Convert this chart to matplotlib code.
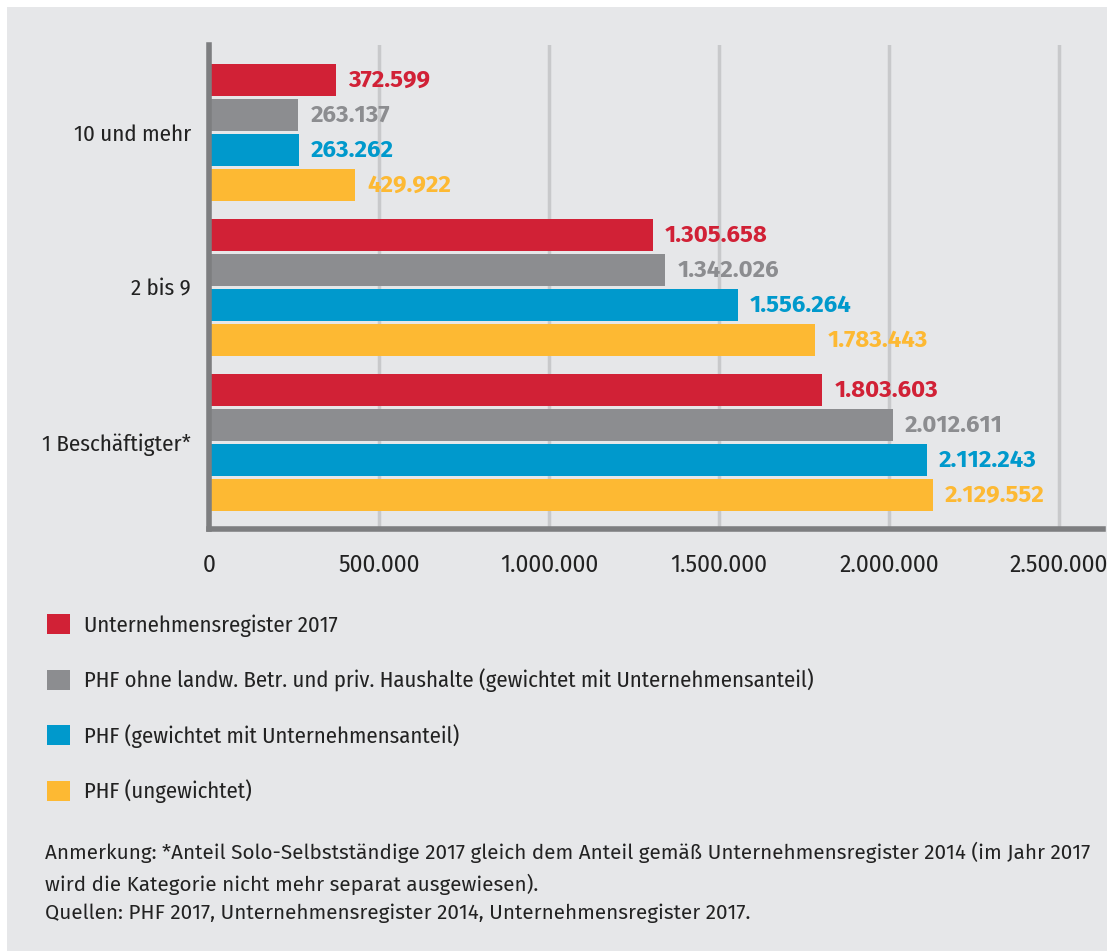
import numpy as np
import matplotlib.pyplot as plt
from matplotlib.patches import Rectangle

kategorien = ["10 und mehr", "2 bis 9", "1 Beschäftigter*"]
serien = ["Unternehmensregister 2017",
          "PHF ohne landw. Betr. und priv. Haushalte (gewichtet mit Unternehmensanteil)",
          "PHF (gewichtet mit Unternehmensanteil)",
          "PHF (ungewichtet)"]
werte = [
    [372599, 1305658, 1803603],
    [263137, 1342026, 2012611],
    [263262, 1556264, 2112243],
    [429922, 1783443, 2129552],
]
farben = ["#d12136", "#8c8d90", "#0099cc", "#fdb933"]
xticks = [0, 500000, 1000000, 1500000, 2000000, 2500000]

def fmt(v):
    return f"{v:,}".replace(",", ".")

plt.rcParams['font.family'] = ['Fira Sans Condensed', 'DejaVu Sans']
breit = ['Fira Sans', 'DejaVu Sans']

fig = plt.figure(figsize=(11.07, 9.51), dpi=100)
fig.patch.set_facecolor("white")
bg = "#e6e7e9"
fig.patches.append(Rectangle((7/1107, 0), 1, 1 - 7/951, transform=fig.transFigure,
                             facecolor=bg, edgecolor="none", zorder=-10))

ax = fig.add_axes([209/1107, 1 - 529/951, (1103 - 209)/1107, (529 - 45)/951])
ax.set_facecolor(bg)

pitch = 35/155
hoehe = 32/155
y0 = np.arange(len(kategorien))
for i, (s, w, c) in enumerate(zip(serien, werte, farben)):
    y = y0 + (i - 1.5) * pitch
    ax.barh(y, w, height=hoehe, color=c, label=s, zorder=3)
    for yy, v in zip(y, w):
        ax.text(v + 35000, yy, fmt(v), color=c, fontsize=17.3, fontweight='bold',
                family=breit, va='center', ha='left', zorder=4)

ax.set_xlim(0, 2629000)
ax.set_ylim(2.558, -0.565)
ax.set_xticks(xticks)
ax.set_xticklabels([fmt(t) for t in xticks], fontsize=16.6, color="#222222", family=breit)
ax.set_yticks(y0)
ax.set_yticklabels(kategorien, fontsize=16.5, color="#222222")
ax.tick_params(length=0)
ax.tick_params(axis='x', pad=18)
ax.tick_params(axis='y', pad=13)
ax.xaxis.grid(True, color="#c8c9cb", linewidth=2.5, zorder=0)
for sp in ["top", "right"]:
    ax.spines[sp].set_visible(False)
for sp in ["left", "bottom"]:
    ax.spines[sp].set_color("#7d7e80")
    ax.spines[sp].set_linewidth(4)
    ax.spines[sp].set_zorder(5)

fig.legend(loc="upper left", bbox_to_anchor=(38/1107, 1 - 605/951), frameon=False,
           fontsize=16.3, handlelength=1.0, handleheight=1.0, labelspacing=1.4,
           handletextpad=0.62, borderaxespad=0, labelcolor="#222222")

anm = ("Anmerkung: *Anteil Solo-Selbstständige 2017 gleich dem Anteil gemäß Unternehmensregister 2014 (im Jahr 2017\n"
       "wird die Kategorie nicht mehr separat ausgewiesen).\n"
       "Quellen: PHF 2017, Unternehmensregister 2014, Unternehmensregister 2017.")
fig.text(45/1107, 1 - 842/951, anm, fontsize=14.9, color="#222222", va="top", ha="left",
         linespacing=1.58, family=breit)

fig.savefig("out.png", dpi=100, facecolor=fig.get_facecolor())
